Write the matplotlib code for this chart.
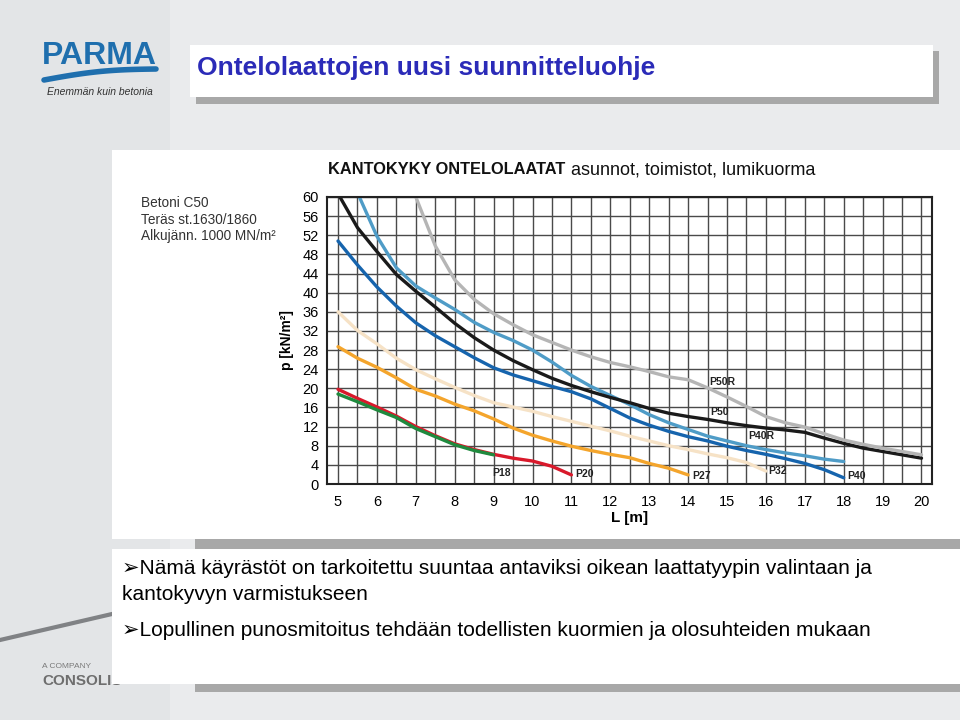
import numpy as np
import matplotlib
matplotlib.use("Agg")
import matplotlib.pyplot as plt
from matplotlib.patches import Rectangle

plt.rcParams["font.family"] = ["Liberation Sans", "DejaVu Sans"]

W, H = 960, 720

# --- curve data (L [m], p [kN/m2]) ---
p50r_L = [7.0, 7.5, 8.0, 8.5, 9.0, 9.5, 10.0, 10.5, 11.0, 11.5, 12.0, 12.5, 13.0, 13.5,
          14.0, 14.5, 15.0, 15.5, 16.0, 16.5, 17.0, 17.5, 18.0, 18.5, 19.0, 19.5, 20.0]
p50r_p = [60, 49.8, 42.7, 38.6, 35.6, 33.3, 31.2, 29.6, 28.0, 26.6, 25.4, 24.5, 23.5, 22.4,
          21.8, 20.1, 18.2, 16.2, 14.1, 12.8, 11.9, 10.5, 9.2, 8.3, 7.5, 6.8, 6.1]

p50_L = [5.05, 5.5, 6.0, 6.5, 7.0, 7.5, 8.0, 8.5, 9.0, 9.5, 10.0, 10.5, 11.0, 11.5, 12.0,
         12.5, 13.0, 13.5, 14.0, 14.5, 15.0, 15.5, 16.0, 16.5, 17.0, 17.5, 18.0, 18.5,
         19.0, 19.5, 20.0]
p50_p = [60, 53.6, 48.6, 43.8, 40.3, 37.0, 33.6, 30.6, 28.0, 25.8, 23.9, 22.1, 20.6, 19.3,
         18.1, 17.0, 15.8, 14.8, 14.1, 13.5, 12.8, 12.2, 11.7, 11.3, 10.8, 9.6, 8.5, 7.5,
         6.8, 6.1, 5.4]

p40r_L = [5.55, 6.0, 6.5, 7.0, 7.5, 8.0, 8.5, 9.0, 9.5, 10.0, 10.5, 11.0, 11.5, 12.0,
          12.5, 13.0, 13.5, 14.0, 14.5, 15.0, 15.5, 16.0, 16.5, 17.0, 17.5, 18.0]
p40r_p = [60, 51.8, 45.2, 41.4, 38.9, 36.5, 33.8, 31.7, 30.0, 28.0, 25.5, 22.7, 20.4, 18.5,
          16.6, 14.5, 12.8, 11.4, 10.0, 9.0, 8.0, 7.2, 6.5, 5.9, 5.2, 4.7]

p40_L = [5.0, 5.5, 6.0, 6.5, 7.0, 7.5, 8.0, 8.5, 9.0, 9.5, 10.0, 10.5, 11.0, 11.5, 12.0,
         12.5, 13.0, 13.5, 14.0, 14.5, 15.0, 15.5, 16.0, 16.5, 17.0, 17.5, 18.0]
p40_p = [50.8, 45.8, 41.2, 37.2, 33.7, 31.0, 28.7, 26.4, 24.3, 22.8, 21.6, 20.4, 19.3, 17.8,
         15.8, 13.8, 12.3, 11.0, 9.9, 9.0, 7.9, 7.0, 6.2, 5.3, 4.3, 3.0, 1.3]

p32_L = [5.0, 5.5, 6.0, 6.5, 7.0, 7.5, 8.0, 8.5, 9.0, 9.5, 10.0, 10.5, 11.0, 11.5, 12.0,
         12.5, 13.0, 13.5, 14.0, 14.5, 15.0, 15.5, 16.0]
p32_p = [36.0, 32.1, 29.3, 26.3, 23.9, 22.0, 20.2, 18.5, 17.0, 16.1, 15.2, 14.1, 13.1, 12.1,
         11.1, 10.0, 9.0, 8.0, 7.2, 6.3, 5.5, 4.5, 2.7]

p27_L = [5.0, 5.5, 6.0, 6.5, 7.0, 7.5, 8.0, 8.5, 9.0, 9.5, 10.0, 10.5, 11.0, 11.5, 12.0,
         12.5, 13.0, 13.5, 14.0]
p27_p = [28.7, 26.3, 24.4, 22.2, 19.8, 18.4, 16.7, 15.3, 13.6, 11.7, 10.2, 9.0, 7.9, 7.0,
         6.2, 5.5, 4.3, 3.3, 1.9]

p20_L = [5.0, 5.5, 6.0, 6.5, 7.0, 7.5, 8.0, 8.5, 9.0, 9.5, 10.0, 10.5, 11.0]
p20_p = [19.8, 17.9, 16.1, 14.2, 12.0, 10.1, 8.4, 7.2, 6.2, 5.4, 4.8, 3.7, 1.9]

p18_L = [5.0, 5.5, 6.0, 6.5, 7.0, 7.5, 8.0, 8.5, 9.0]
p18_p = [18.8, 17.2, 15.5, 13.9, 11.6, 9.9, 8.2, 7.0, 6.1]

# curve name labels and where they sit (L, p)
label_names = ["P18", "P20", "P27", "P32", "P40", "P40R", "P50", "P50R"]
label_L = [8.96, 11.09, 14.1, 16.05, 18.09, 15.54, 14.56, 14.54]
label_p = [2.3, 2.1, 1.7, 2.7, 1.7, 10.0, 15.1, 21.3]

x_ticks = list(range(5, 21))
y_ticks = list(range(0, 61, 4))

info_lines = ["Betoni C50", "Teräs st.1630/1860", "Alkujänn. 1000 MN/m²"]
bullets = ["➢Nämä käyrästöt on tarkoitettu suuntaa antaviksi oikean laattatyypin valintaan ja",
           "kantokyvyn varmistukseen",
           "➢Lopullinen punosmitoitus tehdään todellisten kuormien ja olosuhteiden mukaan"]


def fx(x):
    return x / W


def fy(y):
    return 1 - y / H


def rect(fig, x0, y0, x1, y1, color, z=0):
    fig.add_artist(Rectangle((fx(x0), fy(y1)), fx(x1) - fx(x0), fy(y0) - fy(y1),
                             transform=fig.transFigure, facecolor=color,
                             edgecolor="none", zorder=z))


fig = plt.figure(figsize=(9.6, 7.2), dpi=100)
fig.patch.set_facecolor("#eaebed")

# slide background pieces
rect(fig, 0, 0, 170, 720, "#e3e5e7", 0)
fig.add_artist(plt.Line2D([fx(0), fx(112)], [fy(640), fy(614)], transform=fig.transFigure,
                          color="#808285", lw=3, zorder=0.5))

# logo
fig.text(fx(99), fy(56), "PARMA", fontsize=23, fontweight="bold", color="#1f6fae",
         ha="center", va="center", zorder=2)
t = np.linspace(0, 1, 30)
fig.add_artist(plt.Line2D(fx(44 + 112 * t), fy(80 - 11 * t - 3 * np.sin(np.pi * t)),
                          transform=fig.transFigure, color="#1f6fae", lw=4,
                          solid_capstyle="round", zorder=2))
fig.text(fx(100), fy(92), "Enemmän kuin betonia", fontsize=7.5, style="italic",
         color="#333333", ha="center", va="center", zorder=2)
fig.text(fx(42), fy(667), "A COMPANY", fontsize=6, color="#7a7a7a", va="center", zorder=2)
fig.text(fx(42), fy(681), "CONSOLIS", fontsize=11, fontweight="bold", color="#6e6e6e",
         va="center", zorder=2)

# title box with shadow
rect(fig, 196, 51, 939, 104, "#a8a8a8", 1)
rect(fig, 190, 45, 933, 97, "white", 1.5)
fig.text(fx(197), fy(68), "Ontelolaattojen uusi suunnitteluohje", fontsize=19,
         fontweight="bold", color="#2b2bb8", va="center", zorder=3)

# chart panel and text panel
rect(fig, 195, 538, 960, 549, "#a8a8a8", 1)
rect(fig, 112, 150, 960, 539, "white", 1.5)
rect(fig, 195, 683, 960, 692, "#a8a8a8", 3)
rect(fig, 112, 549, 960, 684, "white", 3)

fig.text(fx(328), fy(170), "KANTOKYKY ONTELOLAATAT", fontsize=11.8, fontweight="bold",
         color="#111111", va="center", zorder=4)
fig.text(fx(571), fy(170), "asunnot, toimistot, lumikuorma", fontsize=13,
         color="#111111", va="center", zorder=4)
for i, line in enumerate(info_lines):
    fig.text(fx(141), fy(203 + 16.5 * i), line, fontsize=9.8, color="#333333",
             va="center", zorder=4)

for line, y in zip(bullets, [569, 594, 631]):
    fig.text(fx(122), fy(y), line, fontsize=15, color="black", va="center", zorder=4,
             family=["Liberation Sans", "DejaVu Sans"])

# chart axes
ax = fig.add_axes([fx(327), fy(484), fx(932) - fx(327), fy(197) - fy(484)], zorder=5)
ax.set_facecolor("white")
ax.set_xlim(4.717, 20.27)
ax.set_ylim(0, 60)
ax.set_xticks(x_ticks)
ax.set_xticks(np.arange(5.5, 20, 1.0), minor=True)
ax.set_yticks(y_ticks)
ax.grid(True, which="both", axis="x", color="#4a4a4a", lw=1.0)
ax.grid(True, which="major", axis="y", color="#4a4a4a", lw=1.0)
ax.set_axisbelow(True)
ax.tick_params(which="both", length=0)
ax.tick_params(axis="x", pad=8, labelsize=10.5)
ax.tick_params(axis="y", pad=6, labelsize=10.5)
for s in ax.spines.values():
    s.set_color("#222222")
    s.set_linewidth(1.5)

ax.set_xlabel("L [m]", fontsize=11, fontweight="bold", labelpad=2)
ax.xaxis.set_label_coords((630 - 327) / 605, -0.095)
ax.set_ylabel("p [kN/m²]", fontsize=10, fontweight="bold", labelpad=6)

curves = [
    (p20_L, p20_p, "#d9192b"),
    (p18_L, p18_p, "#1f8a3e"),
    (p27_L, p27_p, "#f4a52c"),
    (p32_L, p32_p, "#f6e2c6"),
    (p40_L, p40_p, "#1664ad"),
    (p40r_L, p40r_p, "#4f9cc7"),
    (p50_L, p50_p, "#1a1a1a"),
    (p50r_L, p50r_p, "#b5b5b5"),
]
for L, p, c in curves:
    ax.plot(L, p, color=c, lw=2.4, solid_capstyle="round", solid_joinstyle="round")

for name, lx, ly in zip(label_names, label_L, label_p):
    ax.text(lx, ly, name, fontsize=7.5, fontweight="bold", color="#222222",
            ha="left", va="center")

fig.savefig("out.png", dpi=100, facecolor=fig.get_facecolor())
